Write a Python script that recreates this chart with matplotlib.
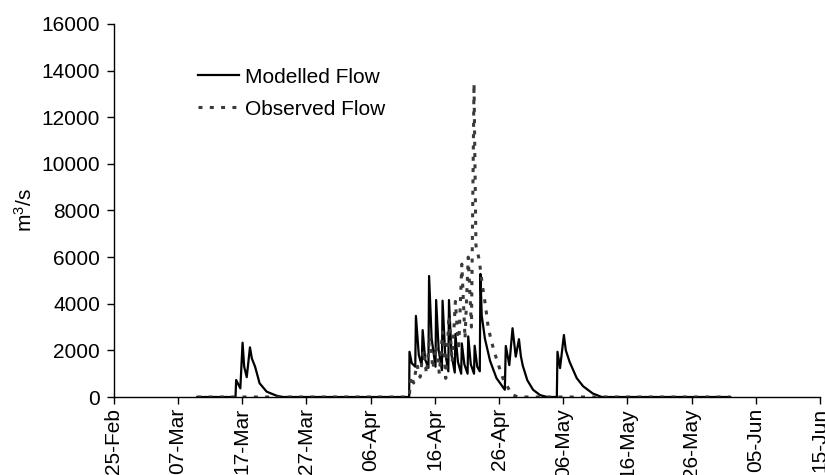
import matplotlib
matplotlib.use("Agg")
import matplotlib.pyplot as plt

# x positions are days counted from 25-Feb
tick_days = [0, 10, 20, 30, 40, 50, 60, 70, 80, 90, 100, 110]
tick_labels = ["25-Feb", "07-Mar", "17-Mar", "27-Mar", "06-Apr", "16-Apr",
               "26-Apr", "06-May", "16-May", "26-May", "05-Jun", "15-Jun"]
y_ticks = [0, 2000, 4000, 6000, 8000, 10000, 12000, 14000, 16000]

modelled_day = [13.0, 18.95, 19.05, 19.7, 20.05, 20.3, 20.7, 21.2, 21.5, 22.0, 22.7, 23.8,
                25.3, 26.3,
                46.0, 46.05, 46.4, 46.95, 47.05, 47.5, 47.95, 48.1, 48.5, 49.0, 49.1,
                49.5, 50.1, 50.2, 50.6, 51.1, 51.2, 51.6, 52.1, 52.2, 52.6, 53.1, 53.2,
                53.6, 54.1, 54.2, 54.6, 55.1, 55.2, 55.6, 56.1, 56.2, 56.6, 57.0, 57.1,
                57.3, 57.8, 58.6, 59.6, 60.9, 61.05, 61.6, 62.1, 62.6, 63.1, 63.4, 63.7,
                64.4, 65.3, 66.4, 67.5, 69.0, 69.1, 69.5, 70.1, 70.4, 71.0, 72.1, 73.1,
                74.6, 76.0, 96.0]
modelled_flow = [0, 0, 730, 370, 2330, 1300, 850, 2130, 1650, 1300, 590, 230,
                 60, 0,
                 0, 1940, 1450, 1300, 3480, 1800, 1350, 2870, 1600, 1250, 5190,
                 2500, 1300, 4160, 2000, 1150, 4130, 1900, 1100, 4160, 1800, 1050, 2700,
                 1500, 1000, 2300, 1400, 1000, 2600, 1400, 1000, 2200, 1300, 1100, 5280,
                 3500, 2500, 1550, 810, 310, 2190, 1370, 2950, 1730, 2480, 1750, 1340,
                 720, 310, 80, 0, 0, 1940, 1240, 2660, 2000, 1500, 810, 460,
                 150, 0, 0]

observed_day = [13.0, 46.0, 46.3, 46.7, 47.2, 47.7, 48.2, 48.7, 49.2, 49.7, 50.2, 50.7,
                51.2, 51.7, 52.2, 52.7, 53.2, 53.7, 54.2, 54.7, 55.2, 55.7, 56.1, 56.4,
                56.9, 57.4, 57.9, 58.3, 58.8, 59.3, 60.0, 60.6, 61.4, 62.0, 63.0, 96.0]
observed_flow = [0, 0, 900, 600, 1400, 850, 2000, 1000, 2600, 1200, 2200, 1000,
                 2800, 800, 3500, 1500, 4100, 2000, 5700, 2500, 6000, 3000, 13450, 6500,
                 5900, 4800, 3900, 3000, 2400, 1900, 1300, 800, 400, 100, 0, 0]

plt.rcParams["font.family"] = ["Liberation Sans", "DejaVu Sans"]
plt.rcParams["font.size"] = 15
plt.rcParams["mathtext.default"] = "regular"

fig = plt.figure(figsize=(8.25, 4.75), dpi=100)
ax = fig.add_axes([0.138, 0.1642, 0.856, 0.7853])

ax.plot(modelled_day, modelled_flow, color="black", linewidth=1.6,
        label="Modelled Flow")
ax.plot(observed_day, observed_flow, color="#3a3a3a", linewidth=2.2,
        linestyle=(0, (1.3, 2.4)), label="Observed Flow")

ax.set_xlim(0, 110)
ax.set_ylim(0, 16000)
ax.set_xticks(tick_days)
ax.set_xticklabels(tick_labels, rotation=90)
ax.set_yticks(y_ticks)
ax.set_ylabel("m$^3$/s")
ax.yaxis.set_label_coords(-0.11, 0.5)

for side in ["top", "right"]:
    ax.spines[side].set_visible(False)
ax.spines["left"].set_linewidth(1.0)
ax.spines["bottom"].set_linewidth(1.0)
ax.tick_params(direction="out", length=5, width=1.0)
ax.tick_params(axis="y", pad=5)
ax.tick_params(axis="x", pad=3)

ax.legend(loc="upper left", bbox_to_anchor=(0.119, 0.883), frameon=False,
          borderpad=0, borderaxespad=0, handlelength=1.95, handletextpad=0.32,
          labelspacing=0.63)

fig.savefig("out.png", dpi=100)
